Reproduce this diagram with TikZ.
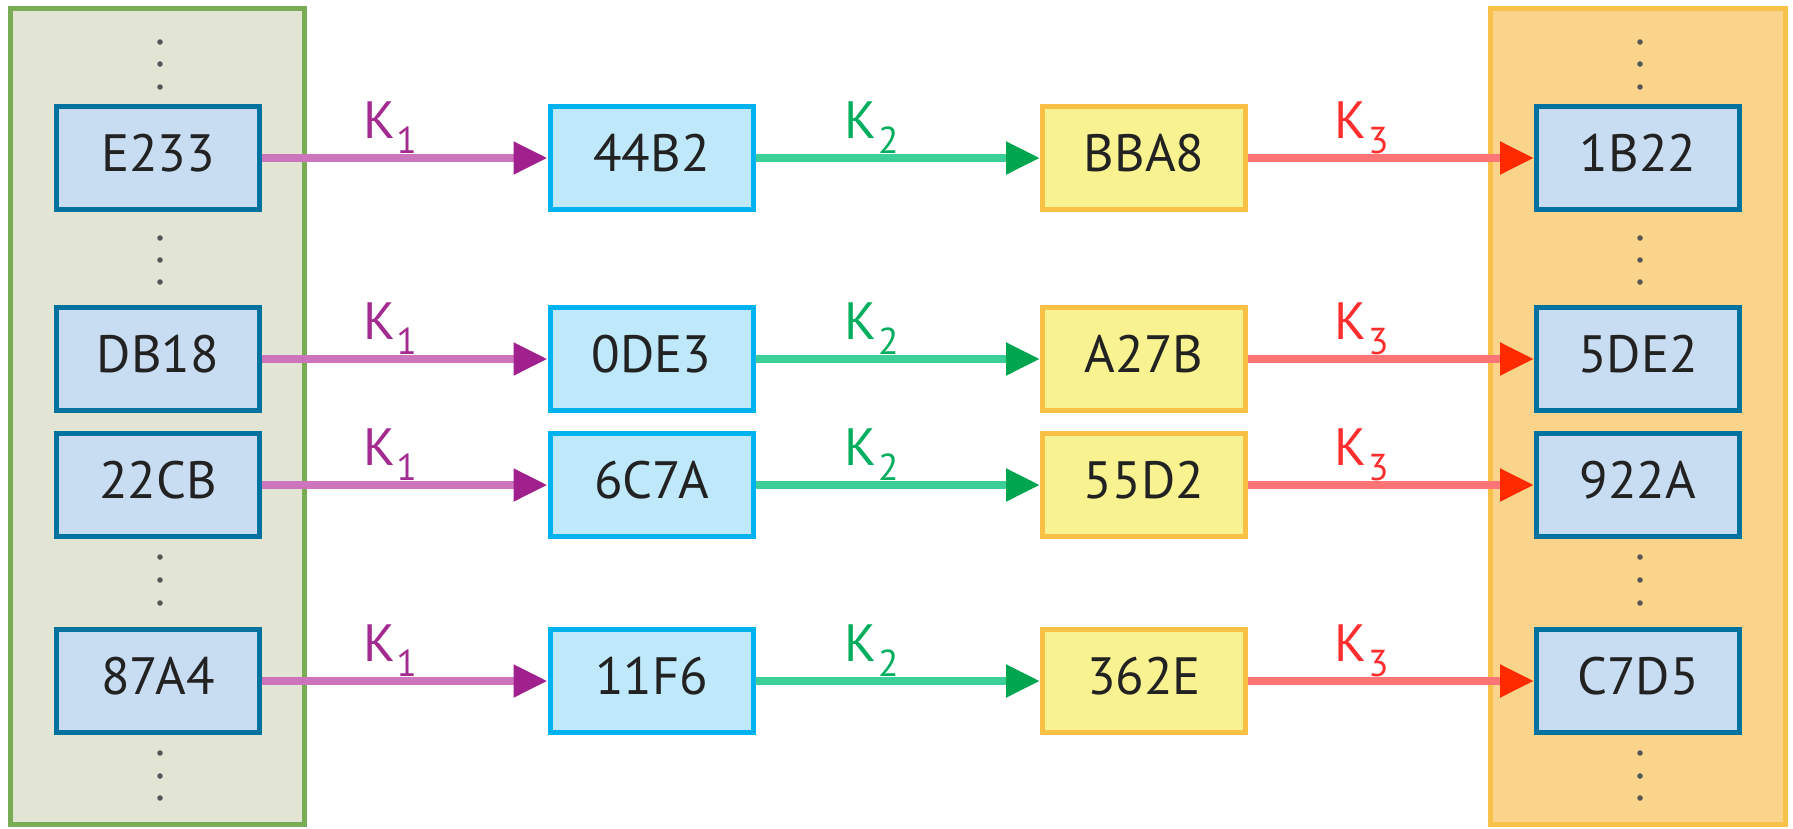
\documentclass[tikz,border=0pt]{standalone}
\usepackage{fontspec}
\setmainfont{PT Sans}
\usetikzlibrary{arrows.meta}

\definecolor{panelL}{HTML}{E2E4D4}
\definecolor{panelLb}{HTML}{7AAC55}
\definecolor{panelR}{HTML}{F9D48A}
\definecolor{panelRb}{HTML}{F8C24A}
\definecolor{keyfill}{HTML}{C8DCF2}
\definecolor{keydraw}{HTML}{0072A0}
\definecolor{midfill}{HTML}{BFE9FA}
\definecolor{middraw}{HTML}{00B2EE}
\definecolor{yelfill}{HTML}{F8F290}
\definecolor{yeldraw}{HTML}{F8C045}
\definecolor{magline}{HTML}{CC74BC}
\definecolor{maghead}{HTML}{A0208E}
\definecolor{magtext}{HTML}{A32B90}
\definecolor{grnline}{HTML}{3CCF98}
\definecolor{grnhead}{HTML}{00A54F}
\definecolor{grntext}{HTML}{00AE5E}
\definecolor{redline}{HTML}{FF7474}
\definecolor{redhead}{HTML}{FF2A00}
\definecolor{redtext}{HTML}{FF2E2E}
\definecolor{txt}{HTML}{222222}
\definecolor{dotc}{HTML}{555555}

\newcommand{\keysub}[1]{K\kern0.5pt\raisebox{-6pt}{\fontsize{15}{15}\selectfont #1}}

\begin{document}
\begin{tikzpicture}[x=0.4pt,y=-0.4pt,
  box/.style={rectangle, minimum width=81.2pt, minimum height=41.2pt,
    line width=2pt, inner sep=0pt, font=\fontsize{21}{25}\selectfont, text=txt},
  keybox/.style={box, fill=keyfill, draw=keydraw},
  midbox/.style={box, fill=midfill, draw=middraw},
  yelbox/.style={box, fill=yelfill, draw=yeldraw},
  link/.style={line width=3.2pt},
  arrA/.style={link, draw=magline, -{Triangle[length=13.6pt,width=12.4pt,color=maghead]}},
  arrB/.style={link, draw=grnline, -{Triangle[length=13.6pt,width=12.4pt,color=grnhead]}},
  arrC/.style={link, draw=redline, -{Triangle[length=13.6pt,width=12.4pt,color=redhead]}},
  klab/.style={anchor=base west, inner sep=0pt, yshift=8pt, font=\fontsize{21}{25}\selectfont},
  panel/.style={line width=2pt}
]
\useasboundingbox (0,0) rectangle (1793,828);

% the two key tables
\draw[panel, draw=panelLb, fill=panelL] (10.5,8.5) rectangle (304.5,824.5);
\draw[panel, draw=panelRb, fill=panelR] (1490.5,8.5) rectangle (1785.5,824.5);

% elided entries
\foreach \y in {42,64,87,238,260,282,557,580,603,753,776,798} {
  \fill[dotc] (160,\y) circle[radius=1.1pt];
  \fill[dotc] (1640,\y) circle[radius=1.1pt];
}

% rows: plaintext -> K1 -> K2 -> K3 -> ciphertext
\foreach \i/\y/\a/\b/\c/\d in {1/158/E233/44B2/BBA8/1B22,
                                2/359/DB18/0DE3/A27B/5DE2,
                                3/485/22CB/6C7A/55D2/922A,
                                4/681/87A4/11F6/362E/C7D5} {
  \node[keybox] (l\i) at (158,\y)    {\raisebox{4pt}{\a}};
  \node[midbox] (m\i) at (651.5,\y)  {\raisebox{4pt}{\b}};
  \node[yelbox] (y\i) at (1144,\y)   {\raisebox{4pt}{\c}};
  \node[keybox] (r\i) at (1638,\y)   {\raisebox{4pt}{\d}};
  \draw[arrA] (l\i) -- node[klab, pos=0.34, text=magtext] {\keysub{1}} (m\i);
  \draw[arrB] (m\i) -- node[klab, pos=0.30, text=grntext] {\keysub{2}} (y\i);
  \draw[arrC] (y\i) -- node[klab, pos=0.29, text=redtext] {\keysub{3}} (r\i);
}
\end{tikzpicture}
\end{document}
